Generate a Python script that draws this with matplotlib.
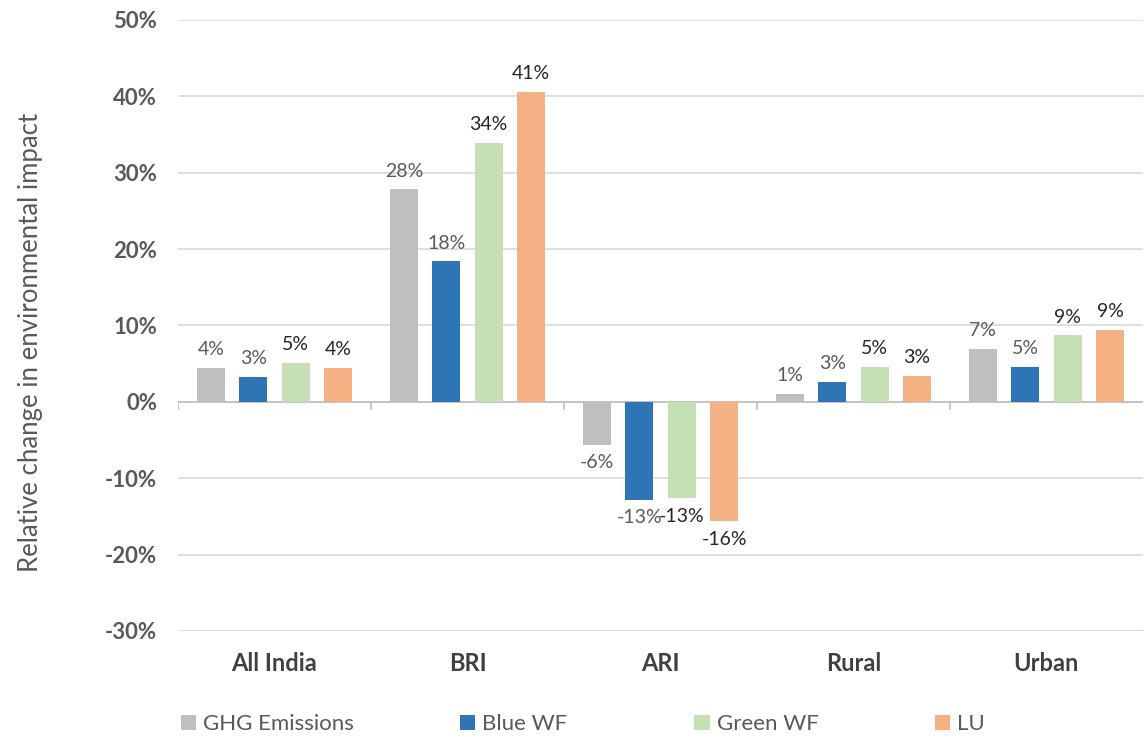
import matplotlib.pyplot as plt
import numpy as np

plt.rcParams['font.family'] = ['Lato', 'DejaVu Sans']

categories = ["All India", "BRI", "ARI", "Rural", "Urban"]
series = ["GHG Emissions", "Blue WF", "Green WF", "LU"]
ghg = [4.4, 27.8, -5.6, 1.0, 6.9]
blue = [3.3, 18.4, -12.8, 2.6, 4.6]
green = [5.1, 33.9, -12.6, 4.6, 8.7]
lu = [4.4, 40.6, -15.6, 3.4, 9.4]
yticks = [-30, -20, -10, 0, 10, 20, 30, 40, 50]

colors = ["#BFBFBF", "#2E75B6", "#C5E0B4", "#F4B183"]
label_colors = ["#595959", "#595959", "#262626", "#262626"]

fig = plt.figure(figsize=(11.44, 7.36), dpi=100)
ax = fig.add_axes([0.1556, 0.1427, 0.8434, 0.8303])

x = np.arange(len(categories))
step = 0.22
width = 0.145
bars = []
for i, vals in enumerate([ghg, blue, green, lu]):
    pos = x + (i - 1.5) * step
    b = ax.bar(pos, vals, width, color=colors[i], zorder=3, label=series[i])
    bars.append(b)
    for p, v in zip(pos, vals):
        if v >= 0:
            ax.annotate(f"{v:.0f}%", (p, v), xytext=(0, 7), textcoords="offset points",
                        ha="center", va="bottom", fontsize=14, color=label_colors[i])
        else:
            ax.annotate(f"{v:.0f}%", (p, v), xytext=(0, -7), textcoords="offset points",
                        ha="center", va="top", fontsize=14, color=label_colors[i])

ax.set_xlim(-0.5, 4.5)
ax.set_ylim(-30, 50)
ax.set_yticks(yticks)
ax.set_yticklabels([f"{t}%" for t in yticks], fontsize=16, fontweight="bold", color="#595959")
ax.yaxis.grid(True, color="#D9D9D9", linewidth=1.2, zorder=0)
ax.tick_params(axis="y", length=0, pad=15)
for s in ax.spines.values():
    s.set_visible(False)

# zero line with group separator ticks
ax.axhline(0, color="#BFBFBF", linewidth=1.2, zorder=2)
for b in np.arange(0.5, 4.5, 1.0):
    ax.plot([b, b], [0, -1.0], color="#BFBFBF", linewidth=1.2, zorder=2)
ax.plot([-0.5, -0.5], [0, -1.0], color="#BFBFBF", linewidth=1.2, zorder=2)

ax.set_xticks([])
for xi, c in zip(x, categories):
    ax.text(xi, -34.3, c, ha="center", va="center", fontsize=17, fontweight="bold", color="#404040")

ax.set_ylabel("Relative change in environmental impact", fontsize=18.5, color="#595959")
ax.yaxis.set_label_coords(-0.14, 0.472)

leg_x = [0.158, 0.402, 0.607, 0.817]
for i in range(4):
    fig.legend(handles=[bars[i]], labels=[series[i]], loc="center left",
               bbox_to_anchor=(leg_x[i], 0.016), frameon=False, fontsize=16,
               handlelength=0.7, handleheight=0.7, handletextpad=0.3,
               labelcolor="#595959", borderaxespad=0, borderpad=0)

fig.savefig("out.png", dpi=100)
